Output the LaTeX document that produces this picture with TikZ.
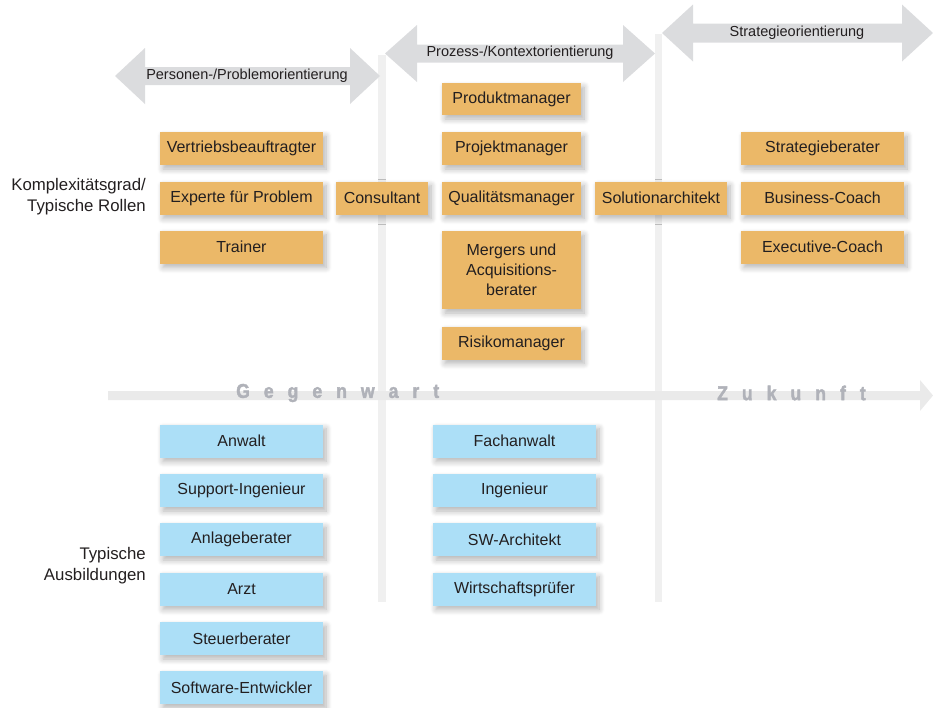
\documentclass[tikz,border=0pt]{standalone}
\usepackage{fontspec}
\setmainfont{Liberation Sans}
\newfontfamily\timefont[LetterSpace=70,FakeStretch=0.88,FakeBold=2]{Liberation Sans Bold}
\usetikzlibrary{shadows.blur}
\definecolor{orangebox}{RGB}{235,184,104}
\definecolor{bluebox}{RGB}{172,223,247}
\definecolor{txt}{RGB}{35,31,32}
\definecolor{arrowgray}{RGB}{219,220,222}
\definecolor{linegray}{RGB}{240,240,240}
\definecolor{axisgray}{RGB}{234,234,234}
\definecolor{timegray}{RGB}{176,178,185}
\newcommand\dblarrow[6]{%
  \fill[arrowgray] (#1,#3) -- (#1+#6,#3-#4) -- (#1+#6,#3-#5) -- (#2-#6,#3-#5) -- (#2-#6,#3-#4) -- (#2,#3)
    -- (#2-#6,#3+#4) -- (#2-#6,#3+#5) -- (#1+#6,#3+#5) -- (#1+#6,#3+#4) -- cycle;}
\begin{document}
\begin{tikzpicture}[x=1pt,y=-1pt,
  role/.style={rectangle, inner sep=0pt, minimum height=33pt, text=txt,
    font=\fontsize{16}{20}\selectfont, align=center,
    blur shadow={shadow xshift=3pt, shadow yshift=-4pt, shadow blur steps=8,
      shadow opacity=30, shadow blur radius=6pt}},
  orole/.style={role, fill=orangebox},
  brole/.style={role, fill=bluebox, minimum width=163pt},
  wide/.style={minimum width=163pt},
  mid/.style={minimum width=139pt},
  arrowlabel/.style={text=txt, font=\fontsize{14.5}{17}\selectfont, inner sep=0pt},
  sidelabel/.style={text=txt, font=\fontsize{16.8}{21}\selectfont, align=right, anchor=east, inner sep=0pt},
  timelabel/.style={text=timegray, anchor=west, inner sep=0pt,
    font=\fontsize{20}{22}\timefont},
]
\useasboundingbox (0,0) rectangle (933,707);

% vertical separators
\fill[linegray] (378,55) rectangle (386,602);
\fill[linegray] (655,34) rectangle (662,602);

% time axis
\fill[axisgray] (108,391) -- (920,391) -- (920,380) -- (933,395.5) -- (920,411) -- (920,400) -- (108,400) -- cycle;
\node[timelabel] (gw) at (236,393) {Gegenwart};
\node[timelabel] (zk) at (717,393) {Zukunft};

% orientation arrows
\dblarrow{115}{380}{76}{28}{9}{30}
\dblarrow{385}{655}{53.5}{28.5}{9}{32}
\dblarrow{662}{933}{33}{28.5}{9.5}{31}
\node[arrowlabel] (pp) at (247,76) {Personen-/Problemorientierung};
\node[arrowlabel] (pk) at (520,53) {Prozess-/Kontextorientierung};
\node[arrowlabel] (so) at (797,33) {Strategieorientierung};

% side labels
\node[sidelabel] (kg) at (146,197) {Komplexitätsgrad/\\Typische Rollen};
\node[sidelabel] (ta) at (146,566) {Typische\\Ausbildungen};

% roles column 1
\node[orole, wide] (vb) at (241.5,148.5) {Vertriebsbeauftragter};
\node[orole, wide] (ex) at (241.5,198) {Experte für Problem};
\node[orole, wide] (tr) at (241.5,247) {Trainer};
\node[orole, minimum width=92pt] (co) at (382,198) {Consultant};

% roles column 2
\node[orole, mid, minimum height=32pt] (pm) at (511.5,99) {Produktmanager};
\node[orole, mid] (pj) at (511.5,148.5) {Projektmanager};
\node[orole, mid] (qm) at (511.5,198) {Qualitätsmanager};
\node[orole, mid, minimum height=78pt] (ma) at (511.5,270) {Mergers und\\Acquisitions-\\berater};
\node[orole, mid] (rm) at (511.5,343) {Risikomanager};
\node[orole, minimum width=132pt] (sa) at (661,198) {Solutionarchitekt};

% roles column 3
\node[orole, wide] (sb) at (822.5,148.5) {Strategieberater};
\node[orole, wide] (bc) at (822.5,198) {Business-Coach};
\node[orole, wide] (ec) at (822.5,247) {Executive-Coach};

% education column 1
\node[brole] (an) at (241.5,441) {Anwalt};
\node[brole] (si) at (241.5,490.5) {Support-Ingenieur};
\node[brole] (ab) at (241.5,539.5) {Anlageberater};
\node[brole] (az) at (241.5,589) {Arzt};
\node[brole] (st) at (241.5,638.5) {Steuerberater};
\node[brole] (se) at (241.5,687.5) {Software-Entwickler};

% education column 2
\node[brole] (fa) at (514.5,441) {Fachanwalt};
\node[brole] (in) at (514.5,490.5) {Ingenieur};
\node[brole] (sw) at (514.5,539.5) {SW-Architekt};
\node[brole] (wp) at (514.5,589) {Wirtschaftsprüfer};
\end{tikzpicture}
\end{document}
